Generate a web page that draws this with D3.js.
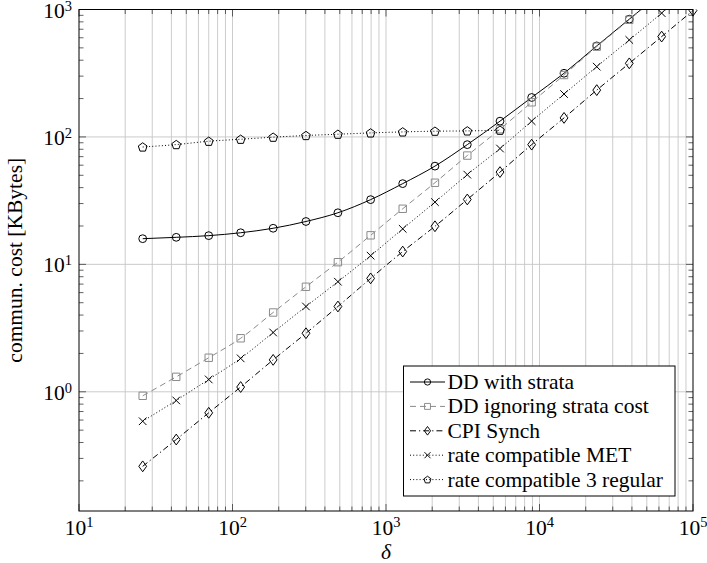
<!DOCTYPE html>
<html>
<head>
<meta charset="utf-8">
<script src="https://cdn.jsdelivr.net/npm/d3@7"></script>
<style>
  body { margin: 0; background: #fff; }
  text { font-family: "Liberation Serif", "Times New Roman", serif; fill: #000; }
</style>
</head>
<body>
<script>
// delta values (x) shared by all series
const deltas = [26, 43, 70, 113, 184, 301, 486, 794, 1285, 2084, 3385, 5530, 8890, 14450, 23600, 38450, 62500, 100000];

// communication cost in KBytes
const ddWithStrata = [15.9, 16.3, 16.8, 17.7, 19.2, 21.7, 25.4, 32.2, 43, 59, 87, 133, 204, 316, 518, 840, 1360, 2240];
const ddIgnoringStrata = [0.93, 1.31, 1.85, 2.63, 4.19, 6.67, 10.4, 16.9, 27.3, 43.7, 71.4, 115, 187, 306, 511, 830, 1350];
const cpiSynch = [0.26, 0.422, 0.684, 1.09, 1.78, 2.88, 4.67, 7.76, 12.6, 19.9, 32.3, 53, 87, 141, 233, 378, 613, 982];
const rateMET = [0.587, 0.855, 1.25, 1.83, 2.92, 4.67, 7.31, 11.7, 19.0, 30.8, 50.6, 81.1, 133, 217, 356, 577, 937, 1530];
const rate3Regular = [83.4, 87.1, 92.5, 95.9, 99.5, 102.6, 105, 107.5, 109.5, 110.9, 111.5, 112.9];

const xTickExps = [1, 2, 3, 4, 5];
const yTickExps = [0, 1, 2, 3];

const W = 707, H = 563;
const margin = { top: 9.5, right: 14, bottom: 52, left: 79 };
const width = W - margin.left - margin.right,
    height = H - margin.top - margin.bottom;

const svg = d3.select("body").append("svg")
    .attr("width", W).attr("height", H)
    .attr("xmlns", "http://www.w3.org/2000/svg");

const g = svg.append("g")
    .attr("transform", "translate(" + margin.left + "," + margin.top + ")");

const x = d3.scaleLog().domain([10, 1e5]).range([0, width]);
const y = d3.scaleLog().domain([0.116, 1000]).range([height, 0]);

// minor values
const xMinor = [], yMinor = [];
for (let e = 1; e < 5; e++) for (let m = 2; m <= 9; m++) xMinor.push(m * Math.pow(10, e));
for (let e = -1; e < 3; e++) for (let m = 2; m <= 9; m++) {
    const v = m * Math.pow(10, e);
    if (v >= 0.116) yMinor.push(v);
}
const xMajor = xTickExps.map(e => Math.pow(10, e));
const yMajor = yTickExps.map(e => Math.pow(10, e));

// grid
const gridColor = "#c6c6c6";
g.append("g").selectAll("line")
    .data(xMinor.concat(xMajor.slice(1, -1)))
    .join("line")
    .attr("x1", d => x(d)).attr("x2", d => x(d))
    .attr("y1", 0).attr("y2", height)
    .attr("stroke", gridColor).attr("stroke-width", 0.9);
g.append("g").selectAll("line")
    .data(yMajor.slice(0, -1))
    .join("line")
    .attr("x1", 0).attr("x2", width)
    .attr("y1", d => y(d)).attr("y2", d => y(d))
    .attr("stroke", gridColor).attr("stroke-width", 0.9);

// ticks (inward, mirrored)
const tickColor = "#3a3a3a";
const ticks = g.append("g").attr("stroke", tickColor).attr("stroke-width", 0.8);
xMajor.concat(xMinor).forEach(v => {
    const len = xMajor.includes(v) ? 7 : 4.5;
    ticks.append("line").attr("x1", x(v)).attr("x2", x(v)).attr("y1", height).attr("y2", height - len);
    ticks.append("line").attr("x1", x(v)).attr("x2", x(v)).attr("y1", 0).attr("y2", len);
});
yMajor.concat(yMinor).forEach(v => {
    const len = yMajor.includes(v) ? 7 : 4.5;
    ticks.append("line").attr("y1", y(v)).attr("y2", y(v)).attr("x1", 0).attr("x2", len);
    ticks.append("line").attr("y1", y(v)).attr("y2", y(v)).attr("x1", width).attr("x2", width - len);
});

// tick labels
const fs = 21.5, sup = 14.5;
xTickExps.forEach(e => {
    const t = g.append("text")
        .attr("x", x(Math.pow(10, e)))
        .attr("y", height + 24)
        .attr("text-anchor", "middle")
        .style("font-size", fs + "px");
    t.append("tspan").text("10");
    t.append("tspan").attr("dy", -8).style("font-size", sup + "px").text(e);
});
yTickExps.forEach(e => {
    const t = g.append("text")
        .attr("x", -7)
        .attr("y", y(Math.pow(10, e)) + 8)
        .attr("text-anchor", "end")
        .style("font-size", fs + "px");
    t.append("tspan").text("10");
    t.append("tspan").attr("dy", -7).style("font-size", sup + "px").text(e);
});

// axis titles
g.append("text")
    .attr("transform", "translate(-57," + (height / 2) + ") rotate(-90)")
    .attr("text-anchor", "middle")
    .style("font-size", fs + "px")
    .text("commun. cost [KBytes]");
g.append("text")
    .attr("x", width / 2).attr("y", height + 48)
    .attr("text-anchor", "middle")
    .style("font-size", fs + "px")
    .style("font-style", "italic")
    .text("δ");

// marker shapes
function markerPath(kind) {
    switch (kind) {
        case "circle": return d3.arc()({ innerRadius: 0, outerRadius: 3.9, startAngle: 0, endAngle: 2 * Math.PI });
        case "square": return "M-3.7,-3.7H3.7V3.7H-3.7Z";
        case "diamond": return "M0,-5.4L3.9,0L0,5.4L-3.9,0Z";
        case "cross": return "M-3.8,-3.8L3.8,3.8M-3.8,3.8L3.8,-3.8";
        case "pentagon": {
            const r = 4.6;
            const pts = d3.range(5).map(i => {
                const a = -Math.PI / 2 + i * 2 * Math.PI / 5;
                return [r * Math.cos(a), r * Math.sin(a) + 0.4];
            });
            return "M" + pts.map(p => p.join(",")).join("L") + "Z";
        }
    }
}

const series = [
    { name: "DD with strata", values: ddWithStrata, color: "#000", dash: null, mark: "circle" },
    { name: "DD ignoring strata cost", values: ddIgnoringStrata, color: "#8a8a8a", dash: "6,4", mark: "square" },
    { name: "CPI Synch", values: cpiSynch, color: "#000", dash: "6,3,1.2,3", mark: "diamond" },
    { name: "rate compatible MET", values: rateMET, color: "#000", dash: "1,2.2", mark: "cross" },
    { name: "rate compatible 3 regular", values: rate3Regular, color: "#000", dash: "1,2.2", mark: "pentagon" }
];

svg.append("clipPath").attr("id", "plotclip")
    .append("rect").attr("x", -6).attr("y", 0).attr("width", width + 12).attr("height", height);

const plot = g.append("g").attr("clip-path", "url(#plotclip)");
const line = d3.line()
    .x(d => x(d[0])).y(d => y(d[1]))
    .curve(d3.curveMonotoneX);

series.forEach(s => {
    const pts = s.values.map((v, i) => [deltas[i], v]);
    plot.append("path")
        .datum(pts)
        .attr("fill", "none")
        .attr("stroke", s.color)
        .attr("stroke-width", 1)
        .attr("stroke-dasharray", s.dash)
        .attr("d", line);
    plot.selectAll(null)
        .data(pts)
        .join("path")
        .attr("transform", d => "translate(" + x(d[0]) + "," + y(d[1]) + ")")
        .attr("d", markerPath(s.mark))
        .attr("fill", "none")
        .attr("stroke", s.color)
        .attr("stroke-width", 1);
});

// frame
g.append("rect")
    .attr("width", width).attr("height", height)
    .attr("fill", "none").attr("stroke", "#000").attr("stroke-width", 1);

// legend
const lg = g.append("g").attr("transform", "translate(" + (403.5 - margin.left) + "," + (366 - margin.top) + ")");
lg.append("rect")
    .attr("width", 271.5).attr("height", 130)
    .attr("fill", "#fff").attr("stroke", "#000").attr("stroke-width", 1);
series.forEach((s, i) => {
    const yy = 16 + i * 24.4;
    lg.append("line")
        .attr("x1", 6.5).attr("x2", 41.5).attr("y1", yy).attr("y2", yy)
        .attr("stroke", s.color).attr("stroke-width", 1)
        .attr("stroke-dasharray", s.dash);
    lg.append("path")
        .attr("transform", "translate(24," + yy + ") scale(0.8)")
        .attr("d", markerPath(s.mark))
        .attr("fill", "none").attr("stroke", s.color).attr("stroke-width", 1.2);
    lg.append("text")
        .attr("x", 44).attr("y", yy + 7)
        .style("font-size", fs + "px")
        .text(s.name);
});
</script>
</body>
</html>
